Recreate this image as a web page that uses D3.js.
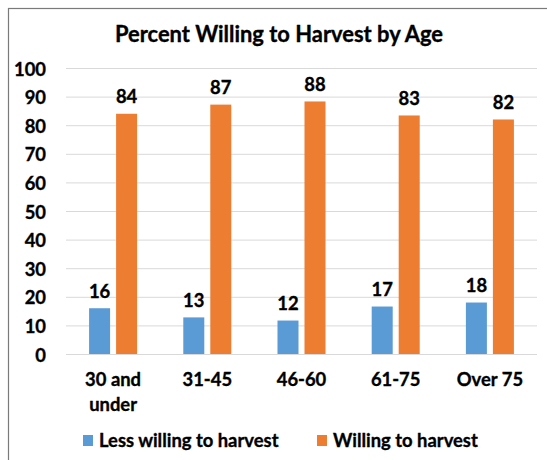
<!DOCTYPE html>
<html>
<head>
<meta charset="utf-8">
<script src="https://cdn.jsdelivr.net/npm/d3@7"></script>
<style>
  html, body { margin: 0; padding: 0; background: #fff; }
  svg { display: block; }
  text { font-family: Lato, "Open Sans", sans-serif; font-weight: 700; fill: #000;
         stroke: #000; stroke-width: 0.35px; paint-order: stroke; }
</style>
</head>
<body>
<svg id="chart" width="547" height="460"></svg>
<script>
const categories = [["30 and", "under"], ["31-45"], ["46-60"], ["61-75"], ["Over 75"]];
const seriesNames = ["Less willing to harvest", "Willing to harvest"];
const lessWilling = [16, 12.8, 11.7, 16.6, 18];
const willing = [84, 87.2, 88.3, 83.4, 82];
const yTicks = [0, 10, 20, 30, 40, 50, 60, 70, 80, 90, 100];
const colors = ["#5B9BD5", "#ED7D31"];
const title = "Percent Willing to Harvest by Age";

const svg = d3.select("#chart");
const plot = { left: 66, right: 537, top: 68, bottom: 354 };
const fs = "18.4px";

// outer frame
svg.append("rect").attr("x", 8.5).attr("y", 8.5).attr("width", 600).attr("height", 600)
  .attr("fill", "none").attr("stroke", "#7a7a7a").attr("stroke-width", 1.2);

svg.append("text").attr("x", 279).attr("y", 42).attr("text-anchor", "middle")
  .style("font-size", "21.9px").text(title);

const catKeys = categories.map(c => c.join(" "));
const x = d3.scaleBand().domain(catKeys).range([plot.left, plot.right]).padding(0);
const xSub = d3.scaleBand().domain(seriesNames).range([0, x.bandwidth()])
  .paddingInner(0.222).paddingOuter(0.855);
const y = d3.scaleLinear().domain([0, 100]).range([plot.bottom, plot.top]);

const yAxis = d3.axisLeft(y).tickValues(yTicks).tickSize(-(plot.right - plot.left)).tickPadding(20);
const gy = svg.append("g").attr("transform", `translate(${plot.left},0)`).call(yAxis);
gy.select(".domain").remove();
gy.selectAll(".tick line").attr("stroke", "#d9d9d9").attr("stroke-width", 1);
gy.selectAll(".tick text").style("font-size", fs).style("font-family", "Lato, sans-serif")
  .attr("dy", "0.38em").attr("fill", "#000");

const data = catKeys.map((k, i) => ({ key: k, values: [lessWilling[i], willing[i]] }));

const groups = svg.selectAll("g.grp").data(data).enter().append("g").attr("class", "grp")
  .attr("transform", d => `translate(${x(d.key)},0)`);

groups.selectAll("rect").data(d => d.values.map((v, j) => ({ s: seriesNames[j], v, j })))
  .enter().append("rect")
  .attr("x", d => xSub(d.s)).attr("width", xSub.bandwidth())
  .attr("y", d => y(d.v)).attr("height", d => y(0) - y(d.v))
  .attr("fill", d => colors[d.j]);

groups.selectAll("text.val").data(d => d.values.map((v, j) => ({ s: seriesNames[j], v, j })))
  .enter().append("text").attr("class", "val")
  .attr("x", d => xSub(d.s) + xSub.bandwidth() / 2)
  .attr("y", d => y(d.v) - 10.5)
  .attr("text-anchor", "middle").style("font-size", fs)
  .text(d => d3.format(".0f")(d.v));

// category labels
const cat = svg.selectAll("text.cat").data(categories).enter().append("text").attr("class", "cat")
  .attr("x", (d, i) => x(catKeys[i]) + x.bandwidth() / 2)
  .attr("y", 386).attr("text-anchor", "middle").style("font-size", fs);
cat.selectAll("tspan").data(d => d).enter().append("tspan")
  .attr("x", function () { return d3.select(this.parentNode).attr("x"); })
  .attr("dy", (d, i) => i === 0 ? 0 : 25).text(d => d);

// legend
const legendX = [83, 317];
const lg = svg.selectAll("g.leg").data(seriesNames).enter().append("g").attr("class", "leg")
  .attr("transform", (d, i) => `translate(${legendX[i]},435)`);
lg.append("rect").attr("width", 10).attr("height", 11).attr("fill", (d, i) => colors[i]);
lg.append("text").attr("x", 16).attr("y", 12).style("font-size", fs).text(d => d);
</script>
</body>
</html>
